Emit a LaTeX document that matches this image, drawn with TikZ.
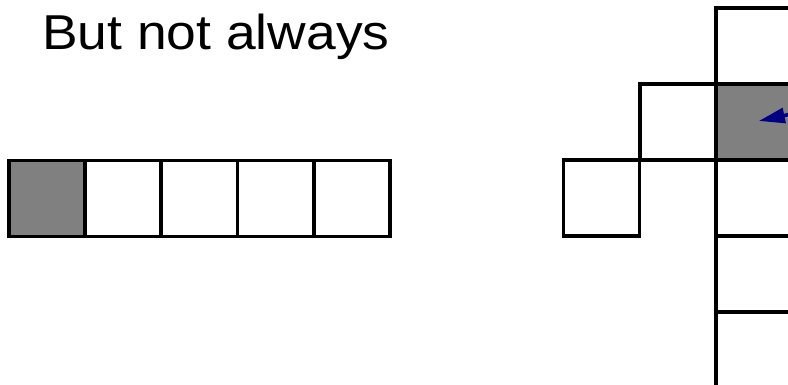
\documentclass[tikz,border=0pt]{standalone}
\usepackage{fontspec}
\setmainfont{Liberation Sans}
\usetikzlibrary{arrows.meta}
\definecolor{navy}{RGB}{0,0,128}
\begin{document}
\begin{tikzpicture}[x=1pt,y=-1pt]
    \tikzstyle{cell}=[draw, line width=3.5pt, minimum size=76pt, inner sep=0pt]
    \tikzstyle{filled}=[cell, fill=black!50]
    \useasboundingbox (0,0) rectangle (788,385);
    \clip (0,0) rectangle (788,385);
    \node[anchor=base west, font=\fontsize{49}{58}\selectfont, inner sep=0pt, xscale=1.09, transform shape] (title) at (42,49.5) {But not always};
    % straight row
    \foreach \i in {0,...,4} {
      \node[cell] (r\i) at ({47 + 76.2*\i}, 198.5) {};
    }
    \node[filled] at (r0) {};
    % bent chain
    \foreach \n/\x/\y in {c0/754/46, c2/754/198, c3/754/274, c4/754/350, c5/678/122, c6/601.5/198} {
      \node[cell] (\n) at (\x, \y) {};
    }
    \node[filled] (c1) at (754,122) {};
    \coordinate (tail) at (880,95);
    \draw[navy, line width=3.5pt, -{Triangle[length=26pt,width=15pt]}, shorten >=5pt] (tail) -- (c1.center);
\end{tikzpicture}
\end{document}
